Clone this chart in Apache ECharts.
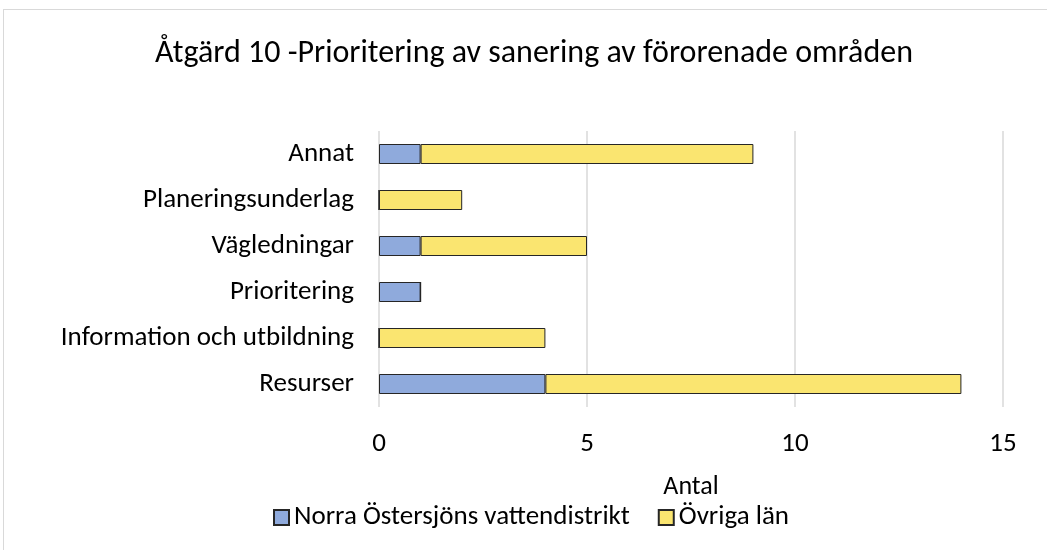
<!DOCTYPE html>
<html>
<head>
<meta charset="utf-8">
<script src="https://cdn.jsdelivr.net/npm/echarts@6/dist/echarts.min.js"></script>
<style>
html, body { margin: 0; padding: 0; background: #fff; }
#frame {
  position: absolute; left: 3px; top: 9px; width: 1060px; height: 560px;
  border: 1px solid #d9d9d9; box-sizing: border-box;
}
#chart { position: absolute; left: 0; top: 0; width: 1047px; height: 550px; }
</style>
</head>
<body>
<div id="frame"></div>
<div id="chart"></div>
<script>
// kategorier nerifrån och upp (ECharts ritar y-axeln nerifrån)
var categories = ['Resurser', 'Information och utbildning', 'Prioritering', 'Vägledningar', 'Planeringsunderlag', 'Annat']
var norra = [4, 0, 1, 1, 0, 1]
var ovriga = [10, 4, 0, 4, 2, 8]
var xTicks = [0, 5, 10, 15]

var font = 'Carlito, "Open Sans", "Liberation Sans", sans-serif'

var chart = echarts.init(document.getElementById('chart'))
chart.setOption({
  animation: false,
  textStyle: { fontFamily: font },
  title: {
    text: 'Åtgärd 10 -Prioritering av sanering av förorenade områden',
    left: 150,
    top: 33,
    textStyle: { fontSize: 32, fontWeight: 'normal', color: '#000', fontFamily: font }
  },
  legend: {
    bottom: 14,
    left: 268,
    itemWidth: 15,
    itemHeight: 15,
    itemGap: 28,
    icon: 'rect',
    textStyle: { fontSize: 27, color: '#000', fontFamily: font },
    data: ['Norra Östersjöns vattendistrikt', 'Övriga län']
  },
  grid: { left: 379, right: 44, top: 131, bottom: 143 },
  xAxis: {
    type: 'value',
    min: xTicks[0],
    max: xTicks[xTicks.length - 1],
    interval: 5,
    name: 'Antal',
    nameLocation: 'middle',
    nameGap: 67,
    nameTextStyle: { fontSize: 26, color: '#000', fontFamily: font },
    axisLabel: { fontSize: 27, color: '#000', margin: 24, fontFamily: font },
    axisLine: { show: false },
    axisTick: { show: false },
    splitLine: { lineStyle: { color: '#d9d9d9', width: 1.5 } }
  },
  yAxis: {
    type: 'category',
    data: categories,
    axisLabel: { fontSize: 27, color: '#000', margin: 25, fontFamily: font },
    axisLine: { show: false },
    axisTick: { show: false }
  },
  series: [
    {
      name: 'Norra Östersjöns vattendistrikt',
      type: 'bar',
      stack: 'total',
      barWidth: 20,
      itemStyle: { color: '#8faadc', borderColor: '#262626', borderWidth: 1 },
      data: norra
    },
    {
      name: 'Övriga län',
      type: 'bar',
      stack: 'total',
      barWidth: 20,
      itemStyle: { color: '#fae570', borderColor: '#262626', borderWidth: 1 },
      data: ovriga
    }
  ]
})
</script>
</body>
</html>
